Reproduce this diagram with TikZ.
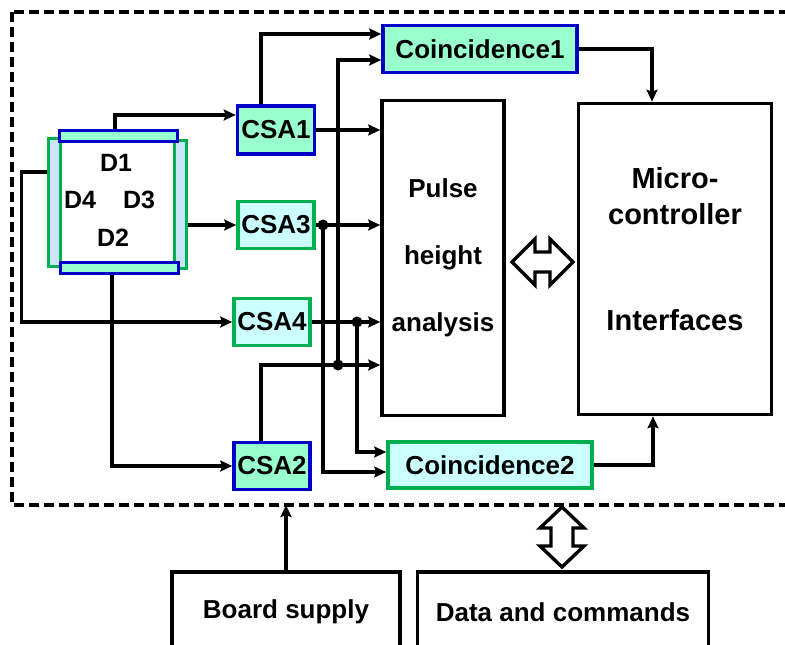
\documentclass[tikz,border=0pt]{standalone}
\usepackage{fontspec}
\setmainfont{Liberation Sans}
\usetikzlibrary{arrows.meta,calc}
\definecolor{bluB}{RGB}{0,0,200}
\definecolor{grnF}{RGB}{153,255,204}
\definecolor{grnB}{RGB}{0,176,80}
\definecolor{cyaF}{RGB}{204,255,255}
\definecolor{stripF}{RGB}{204,228,250}
\begin{document}
\begin{tikzpicture}[x=1pt,y=-1pt,line width=3.6pt,
  every node/.style={font=\fontsize{26}{30}\selectfont\bfseries},
  box/.style={draw,line width=3.6pt,inner sep=0pt,anchor=center},
  csab/.style={box,draw=bluB,fill=grnF},
  csag/.style={box,draw=grnB,fill=cyaF},
  hstrip/.style={box,draw=bluB,fill=grnF,line width=3pt,minimum width=118pt,minimum height=11pt},
  vstrip/.style={box,draw=grnB,fill=stripF,line width=3pt,minimum width=12pt,minimum height=128pt},
  arr/.style={-{Stealth[length=12pt,width=11pt,inset=2pt]},line width=3.6pt},
  dot/.style={circle,fill=black,inner sep=0pt,minimum size=11pt},
  hollow/.style={draw,line width=3.4pt,fill=white,line join=miter}]
\clip (0,0) rectangle (785,645);
\fill[white] (0,0) rectangle (785,645);
% dashed board frame
\draw[dash pattern=on 10pt off 5pt,line width=3.6pt] (12,12) rectangle (800,505);
\coordinate (framebot) at (0,505);
% detector
\node[vstrip] (d4) at (54,202) {};
\node[vstrip] (d3) at (180,204) {};
\node[hstrip] (d1) at (118,136) {};
\node[hstrip] (d2) at (119,268) {};
\node[font=\fontsize{25}{30}\selectfont\bfseries] (t1) at (116,163) {D1};
\node[font=\fontsize{25}{30}\selectfont\bfseries] (t4) at (80,200) {D4};
\node[font=\fontsize{25}{30}\selectfont\bfseries] (t3) at (139,200) {D3};
\node[font=\fontsize{25}{30}\selectfont\bfseries] (t2) at (113,238) {D2};
% CSAs
\node[csab,minimum width=77pt,minimum height=48pt] (csa1) at (276,130) {CSA1};
\node[csag,minimum width=76pt,minimum height=47pt] (csa3) at (276,225) {CSA3};
\node[csag,minimum width=76pt,minimum height=47pt] (csa4) at (272,322) {CSA4};
\node[csab,minimum width=76pt,minimum height=47pt] (csa2) at (272,466) {CSA2};
% coincidences
\node[csab,minimum width=194pt,minimum height=47pt] (co1) at (480,49) {Coincidence1};
\node[csag,minimum width=204pt,minimum height=46pt] (co2) at (490,465) {Coincidence2};
% PHA and micro
\node[box,minimum width=122pt,minimum height=315pt,align=center] (pha) at (443,258)
  {Pulse\\[37pt]height\\[37pt]analysis};
\node[box,minimum width=193pt,minimum height=311pt] (micro) at (675,259) {};
\node[align=center,font=\fontsize{29}{36}\selectfont\bfseries] (mtxt) at (675,196) {Micro-\\controller};
\node[font=\fontsize{29}{36}\selectfont\bfseries] (itxt) at (675,320) {Interfaces};
% bottom boxes
\node[box,minimum width=228pt,minimum height=80pt] (board) at (286,612) {Board supply};
\node[box,minimum width=291pt,minimum height=80pt] (data) at (563,612) {Data and commands};
% junction dots
\node[dot] (j3) at (323,225) {};
\node[dot] (j4) at (357,322) {};
\node[dot] (j2) at (338,365) {};
% detector to CSAs
\draw[arr] ($(d1.north)+(-3,0)$) |- ($(csa1.west)+(0,-15)$);
\draw[arr] (d3.east |- csa3.west) -- (csa3.west);
\draw[arr] ($(d4.west)+(0,-30)$) -- ++(-25,0) |- (csa4.west);
\draw[arr] ($(d2.south)+(-7,0)$) |- (csa2.west);
% CSA outputs
\draw[arr] (csa1.east) -- (csa1.east -| pha.west);
\draw[arr] ($(csa1.north)+(-15,0)$) |- ($(co1.west)+(0,-15)$);
\draw[arr] (csa3.east) -- (csa3.east -| pha.west);
\draw[arr] (j3.center) |- ($(co2.west)+(0,7)$);
\draw[arr] (csa4.east) -- (csa4.east -| pha.west);
\draw[arr] (j4.center) |- ($(co2.west)+(0,-13)$);
\draw[arr] ($(csa2.north)+(-11,0)$) |- (j2.center -| pha.west);
\draw[arr] (j2.center) |- ($(co1.west)+(0,11)$);
% coincidences to micro
\draw[arr] (co1.east) -| ($(micro.north)+(-23,0)$);
\draw[arr] (co2.east) -| ($(micro.south)+(-22,0)$);
% supply
\draw[arr] (board.north) -- (board.north |- framebot);
% hollow double arrows
\draw[hollow] (512,262) -- (535,239) -- (535,252) -- (550,252) -- (550,239) -- (573,262)
  -- (550,285) -- (550,272) -- (535,272) -- (535,285) -- cycle;
\draw[hollow] (562,507) -- (540,528) -- (551,528) -- (551,546) -- (540,546) -- (562,567)
  -- (584,546) -- (573,546) -- (573,528) -- (584,528) -- cycle;
\end{tikzpicture}
\end{document}
